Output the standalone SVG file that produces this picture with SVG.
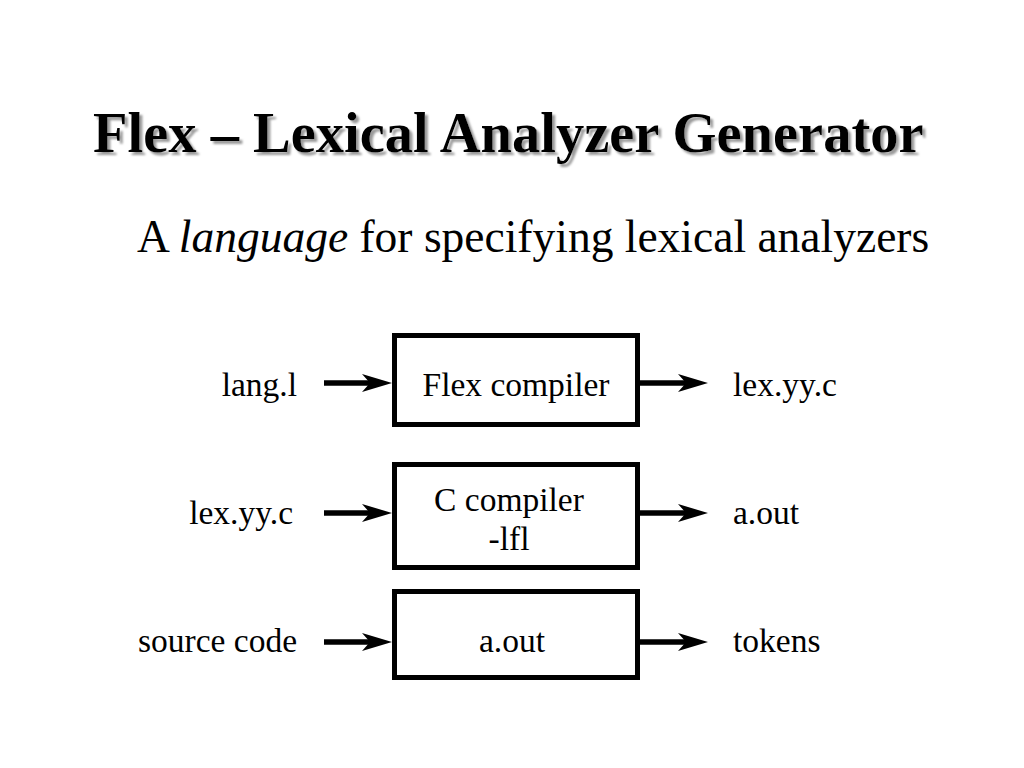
<svg xmlns="http://www.w3.org/2000/svg" width="1024" height="768" viewBox="0 0 1024 768">
  <style>
    .title { font-family: "Liberation Serif", "Times New Roman", serif; font-weight: bold; font-size: 56.5px; fill: #000; }
    .sub { font-family: "Liberation Serif", "Times New Roman", serif; font-size: 45.5px; fill: #000; }
    .lbl { font-family: "Liberation Serif", "Times New Roman", serif; font-size: 33.5px; fill: #000; }
    .box { fill: #fff; stroke: #000; stroke-width: 5; }
    .conn { stroke: #000; stroke-width: 5.5; fill: none; }
  </style>
  <defs>
    <marker id="head" viewBox="0 0 30 18" refX="18" refY="9" markerWidth="30" markerHeight="18" markerUnits="userSpaceOnUse" orient="auto">
      <path d="M0,0 L30,9 L0,18 L8,9 Z" fill="#000"/>
    </marker>
    <filter id="shadow" x="-5%" y="-20%" width="110%" height="150%">
      <feOffset in="SourceAlpha" dx="3" dy="3" result="off"/>
      <feGaussianBlur in="off" stdDeviation="1.2" result="blur"/>
      <feFlood flood-color="#9a9a9a"/>
      <feComposite in2="blur" operator="in" result="shade"/>
      <feMerge>
        <feMergeNode in="shade"/>
        <feMergeNode in="SourceGraphic"/>
      </feMerge>
    </filter>
  </defs>
  <rect width="1024" height="768" fill="#fff"/>

  <g id="title">
    <text class="title" x="93" y="152" filter="url(#shadow)">Flex – Lexical Analyzer Generator</text>
  </g>
  <g id="subtitle">
    <text class="sub" x="137" y="252">A <tspan font-style="italic">language</tspan> for specifying lexical analyzers</text>
  </g>

  <g id="connectors">
    <line class="conn" x1="324" y1="383" x2="380" y2="383" marker-end="url(#head)"/>
    <line class="conn" x1="640" y1="383" x2="696" y2="383" marker-end="url(#head)"/>
    <line class="conn" x1="324" y1="513" x2="380" y2="513" marker-end="url(#head)"/>
    <line class="conn" x1="640" y1="513" x2="696" y2="513" marker-end="url(#head)"/>
    <line class="conn" x1="324" y1="642" x2="380" y2="642" marker-end="url(#head)"/>
    <line class="conn" x1="640" y1="642" x2="696" y2="642" marker-end="url(#head)"/>
  </g>

  <g id="flex-compiler">
    <rect class="box" x="394.5" y="335.5" width="243" height="89"/>
    <text class="lbl" x="516" y="396" text-anchor="middle">Flex compiler</text>
  </g>
  <g id="c-compiler">
    <rect class="box" x="394.5" y="464.5" width="243" height="103"/>
    <text class="lbl" x="509" y="511" text-anchor="middle">C compiler</text>
    <text class="lbl" x="509" y="550" text-anchor="middle">-lfl</text>
  </g>
  <g id="a-out-box">
    <rect class="box" x="394.5" y="591.5" width="243" height="86"/>
    <text class="lbl" x="512" y="652" text-anchor="middle">a.out</text>
  </g>

  <g id="lang-l">
    <text class="lbl" x="297" y="396" text-anchor="end">lang.l</text>
  </g>
  <g id="lex-yy-c-out">
    <text class="lbl" x="733" y="396">lex.yy.c</text>
  </g>
  <g id="lex-yy-c-in">
    <text class="lbl" x="293" y="524" text-anchor="end">lex.yy.c</text>
  </g>
  <g id="a-out-file">
    <text class="lbl" x="733" y="524">a.out</text>
  </g>
  <g id="source-code">
    <text class="lbl" x="297" y="652" text-anchor="end">source code</text>
  </g>
  <g id="tokens">
    <text class="lbl" x="733" y="652">tokens</text>
  </g>
</svg>
